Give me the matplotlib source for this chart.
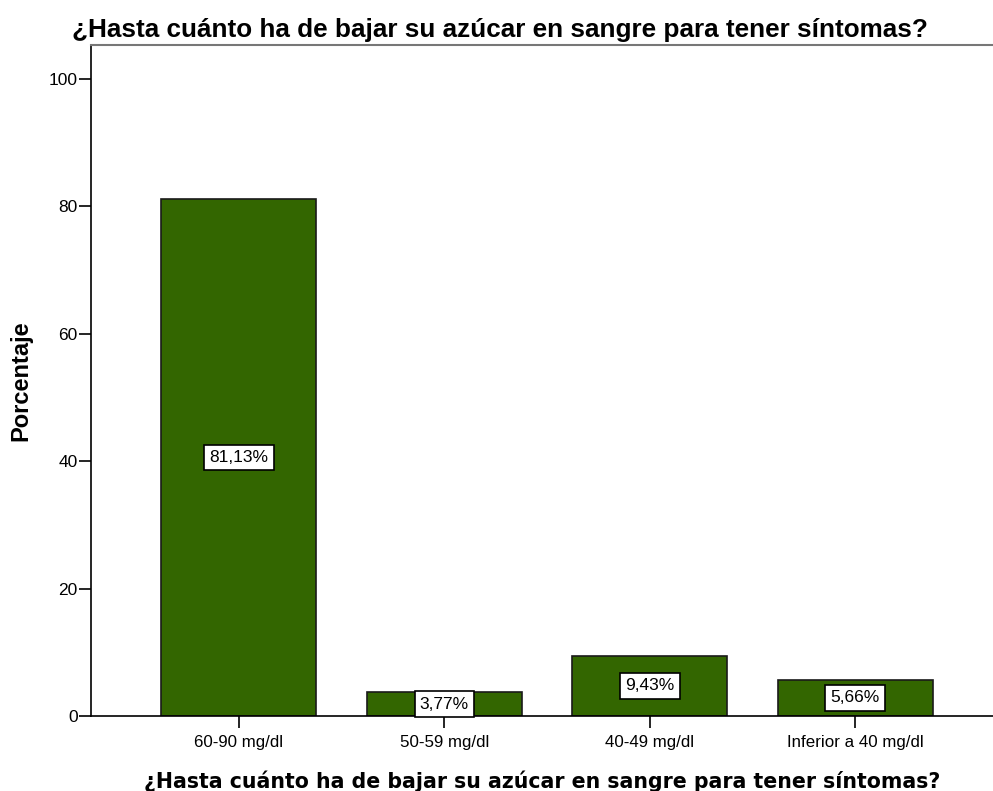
import matplotlib.pyplot as plt

# Data
categories = ["60-90 mg/dl", "50-59 mg/dl", "40-49 mg/dl", "Inferior a 40 mg/dl"]
values = [81.13, 3.77, 9.43, 5.66]
value_labels = ["81,13%", "3,77%", "9,43%", "5,66%"]
yticks = [0, 20, 40, 60, 80, 100]
title = "¿Hasta cuánto ha de bajar su azúcar en sangre para tener síntomas?"

fig = plt.figure(figsize=(9.93, 7.91), dpi=100)
ax = fig.add_axes([0.0916, 0.0948, 0.9084, 0.8483])

x = range(len(categories))
ax.bar(x, values, width=0.755, color="#336600", edgecolor="#1a1a1a", linewidth=1.2, zorder=2)

# Value labels in white boxes at the middle of each bar
for xi, v, lab in zip(x, values, value_labels):
    ax.text(xi, v / 2, lab, ha="center", va="center", fontsize=12.5,
            family="Liberation Sans", zorder=3,
            bbox=dict(boxstyle="square,pad=0.3", facecolor="white", edgecolor="black", linewidth=1.2))

ax.set_xlim(-0.72, 3.67)
ax.set_ylim(0, 105.3)
ax.set_yticks(yticks)
ax.set_xticks(list(x))
ax.set_xticklabels(categories, family="Liberation Sans", fontsize=12.2)
ax.set_yticklabels([str(t) for t in yticks], family="Liberation Sans", fontsize=12.5)
ax.tick_params(axis="y", direction="out", length=8.5, width=1.2, pad=1)
ax.tick_params(axis="x", direction="out", length=8.5, width=1.2, pad=5)

for s in ["left", "bottom"]:
    ax.spines[s].set_linewidth(1.2)
ax.spines["right"].set_visible(False)
ax.spines["top"].set_color("#777777")
ax.spines["top"].set_linewidth(1.5)

ax.set_ylabel("Porcentaje", family="Liberation Sans", fontweight="bold", fontsize=17, labelpad=12)
ax.set_xlabel(title, family="DejaVu Sans", fontweight="bold", fontsize=14.8, labelpad=15)
fig.text(0.503, 0.962, title, ha="center", va="center", family="Liberation Sans",
         fontweight="bold", fontsize=18.8)

fig.savefig("out.png", dpi=100)
